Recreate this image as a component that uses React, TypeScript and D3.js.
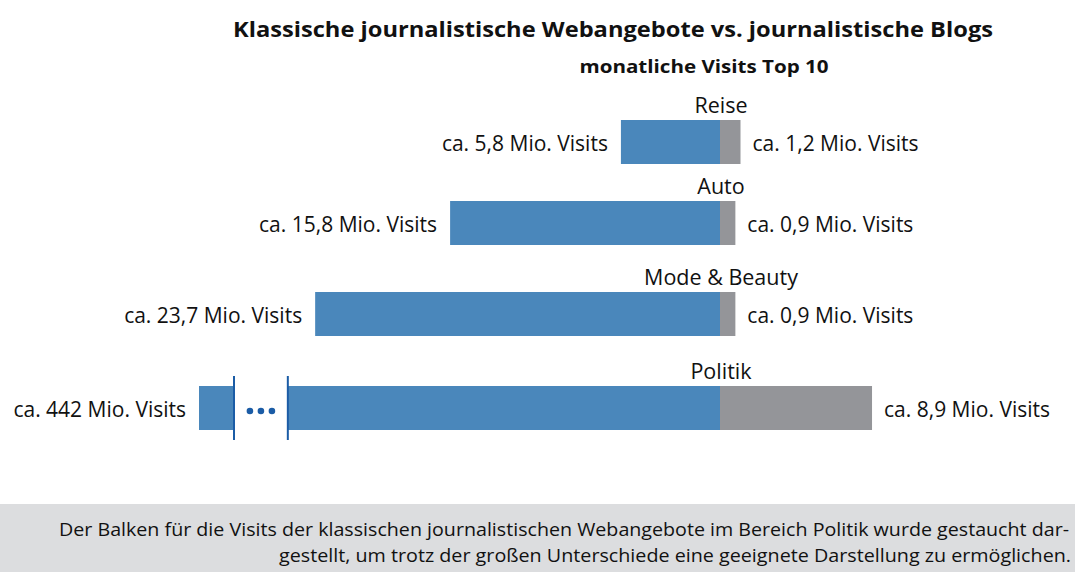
import React from "react";
import * as d3 from "d3";

const categories = ["Reise", "Auto", "Mode & Beauty", "Politik"];
const klassisch = [5.8, 15.8, 23.7, 442];
const blogs = [1.2, 0.9, 0.9, 8.9];
const klassischLabels = ["ca. 5,8 Mio. Visits", "ca. 15,8 Mio. Visits", "ca. 23,7 Mio. Visits", "ca. 442 Mio. Visits"];
const blogLabels = ["ca. 1,2 Mio. Visits", "ca. 0,9 Mio. Visits", "ca. 0,9 Mio. Visits", "ca. 8,9 Mio. Visits"];
// compressed display of the Politik bar (value drawn in Mio.) and the break gap
const compressedDisplay = 30.5;
const breakFrom = 28.45;
const breakTo = 25.3;

const title = "Klassische journalistische Webangebote vs. journalistische Blogs";
const subtitle = "monatliche Visits Top 10";
const note1 = "Der Balken für die Visits der klassischen journalistischen Webangebote im Bereich Politik wurde gestaucht dar-";
const note2 = "gestellt, um trotz der großen Unterschiede eine geeignete Darstellung zu ermöglichen.";

const W = 1075;
const H = 572;
const CX = 720;
const BLUE = "#4a87bb";
const GRAY = "#949599";
const DARK = "#1b5ca6";
const FONT = "'Open Sans', 'Noto Sans', sans-serif";

export default function App() {
  const left = d3.scaleLinear().domain([0, compressedDisplay]).range([CX, 199]);
  const right = d3.scaleLinear().domain([0, compressedDisplay]).range([CX, CX + (CX - 199)]);
  const rowTop = d3.scaleOrdinal<string, number>().domain(categories).range([120, 201, 292, 386]);
  const barH = 44;

  return (
    <svg width={W} height={H} style={{ position: "absolute", left: 0, top: 0, display: "block" }} fontFamily={FONT}>
      <rect x={0} y={0} width={W} height={H} fill="#fff" />
      <text x={613} y={37} textAnchor="middle" fontSize={22} fontWeight={700} fill="#111" textLength={760} lengthAdjust="spacingAndGlyphs">{title}</text>
      <text x={704} y={73} textAnchor="middle" fontSize={18} fontWeight={700} fill="#111" textLength={249} lengthAdjust="spacingAndGlyphs">{subtitle}</text>

      {categories.map((c, i) => {
        const y = rowTop(c);
        const isBroken = klassisch[i] > compressedDisplay;
        const dv = isBroken ? compressedDisplay : klassisch[i];
        const xl = left(dv);
        const xr = right(blogs[i]);
        return (
          <g key={c}>
            <text x={CX + 1} y={y - 7} textAnchor="middle" fontSize={21.5} fill="#111">{c}</text>
            <rect x={xl} y={y} width={CX - xl} height={barH} fill={BLUE} />
            <rect x={CX} y={y} width={xr - CX} height={barH} fill={GRAY} />
            {isBroken && (
              <g>
                <rect x={left(breakFrom)} y={y} width={left(breakTo) - left(breakFrom)} height={barH} fill="#fff" />
                <line x1={left(breakFrom)} x2={left(breakFrom)} y1={y - 10} y2={y + barH + 10} stroke={DARK} strokeWidth={2} />
                <line x1={left(breakTo)} x2={left(breakTo)} y1={y - 10} y2={y + barH + 10} stroke={DARK} strokeWidth={2} />
                {[0, 1, 2].map((k) => (
                  <circle key={k} cx={(left(breakFrom) + left(breakTo)) / 2 + (k - 1) * 11} cy={y + barH / 2 + 3} r={3.3} fill={DARK} />
                ))}
              </g>
            )}
            <text x={xl - 13} y={y + barH / 2 + 9} textAnchor="end" fontSize={21} fill="#111">{klassischLabels[i]}</text>
            <text x={xr + 12} y={y + barH / 2 + 9} textAnchor="start" fontSize={21} fill="#111">{blogLabels[i]}</text>
          </g>
        );
      })}

      <rect x={0} y={504} width={W} height={H - 504} fill="#dcdddf" />
      <text x={1069} y={536} textAnchor="end" fontSize={19} fill="#111" textLength={1010} lengthAdjust="spacingAndGlyphs">{note1}</text>
      <text x={1071} y={562} textAnchor="end" fontSize={19} fill="#111" textLength={792} lengthAdjust="spacingAndGlyphs">{note2}</text>
    </svg>
  );
}
